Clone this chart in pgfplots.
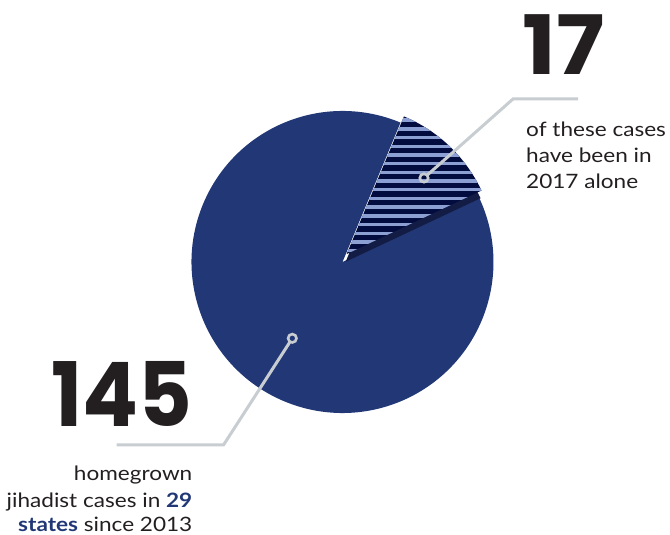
\documentclass[border=0pt]{standalone}
\usepackage{pgfplots}
\pgfplotsset{compat=1.18}
\usepackage{pgfplotstable}
\usepackage{graphicx}
\usepackage{fontspec}
\setmainfont{Lato}[FakeStretch=1.14]
\newfontfamily\numfont{Poppins}

\definecolor{pienavy}{HTML}{223876}
\definecolor{stripedark}{HTML}{030C3E}
\definecolor{stripelight}{HTML}{8C9FD2}
\definecolor{shadownavy}{HTML}{121C44}
\definecolor{conngray}{HTML}{C8CDD1}
\definecolor{textgray}{HTML}{231F20}

% homegrown jihadist cases since 2013, split by year
\pgfplotstableread{
group cases
before2017 128
in2017 17
}\casestable

\begin{document}
\begin{tikzpicture}
\pgfplotstablegetelem{0}{cases}\of\casestable \let\nold\pgfplotsretval
\pgfplotstablegetelem{1}{cases}\of\casestable \let\nnew\pgfplotsretval
\pgfmathsetmacro\total{\nold+\nnew}
\pgfmathsetmacro\sweep{360*\nnew/\total}
\pgfmathsetmacro\sa{25.2}
\pgfmathsetmacro\ea{\sa+\sweep}
\pgfmathsetmacro\eb{\sa+360}
\tikzset{
  conn/.style={draw=conngray, line width=3pt, line join=miter},
  captxt/.style={inner sep=0, text=textgray, font=\fontsize{19.8}{22}\selectfont}}
\begin{axis}[
    width=670pt, height=535pt, scale only axis,
    xmin=0, xmax=670, ymin=0, ymax=535,
    hide axis, clip=false]

\path (axis cs:0,0) rectangle (axis cs:670,535);

% the 128 earlier cases
\fill[pienavy] (axis cs:342.5,273) -- ++(\ea:151pt)
    arc[start angle=\ea, end angle=\eb, radius=151pt] -- cycle;

% the 17 cases of 2017, lifted out of the pie
\fill[shadownavy] (axis cs:345.7,273.3) -- ++(\sa:149pt)
    arc[start angle=\sa, end angle=\ea, radius=149pt] -- cycle;
\begin{scope}
\clip (axis cs:346.7,281) -- ++(\sa:149pt)
    arc[start angle=\sa, end angle=\ea, radius=149pt] -- cycle;
\fill[stripedark] (axis cs:330,270) rectangle (axis cs:500,440);
\pgfplotsinvokeforeach{-6,...,19}{
  \fill[stripelight] (axis cs:330,{381.7-8.7*#1}) rectangle (axis cs:500,{378.3-8.7*#1});
}
\end{scope}

% callouts
\draw[conn, shorten <=4.5pt] (axis cs:424,357) -- (axis cs:513,436) -- (axis cs:578,436);
\draw[conngray, line width=2.6pt] (axis cs:424,357) circle[radius=4.2pt];
\draw[conn, shorten <=4.5pt] (axis cs:292.3,196.7) -- (axis cs:223.5,90) -- (axis cs:116.7,90);
\draw[conngray, line width=2.6pt] (axis cs:292.3,196.7) circle[radius=4.2pt];

% big numbers
\node[anchor=base west, inner sep=0, text=textgray] at (axis cs:522,460)
    {\scalebox{1.1}[1]{\numfont\bfseries\fontsize{82}{82}\selectfont 17}};
\node[anchor=base west, inner sep=0, text=textgray] at (axis cs:51,108)
    {\scalebox{0.93}[1]{\numfont\bfseries\fontsize{89}{89}\selectfont 145}};

% captions
\node[captxt, anchor=base west] at (axis cs:526,398.3) {of these cases};
\node[captxt, anchor=base west] at (axis cs:526,372) {have been in};
\node[captxt, anchor=base west] at (axis cs:526,346) {2017 alone};
\node[captxt, anchor=base east] at (axis cs:192.5,54) {homegrown};
\node[captxt, anchor=base east] at (axis cs:192.5,27) {jihadist cases in \textcolor{pienavy}{\bfseries 29}};
\node[captxt, anchor=base east] at (axis cs:192.5,3) {\textcolor{pienavy}{\bfseries states} since 2013};
\end{axis}
\end{tikzpicture}
\end{document}
